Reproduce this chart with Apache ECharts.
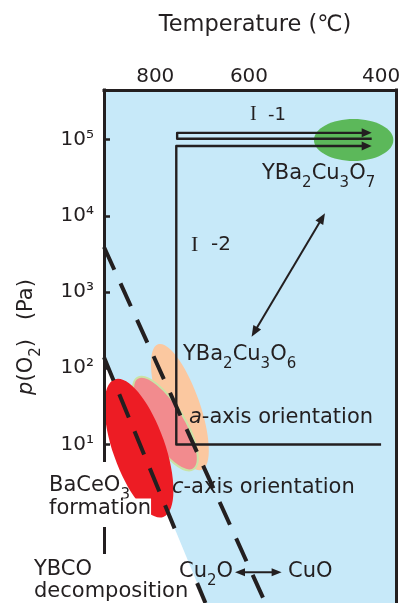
<!DOCTYPE html>
<html><head><meta charset="utf-8">
<script src="https://cdn.jsdelivr.net/npm/echarts@6/dist/echarts.min.js"></script>
<style>html,body{margin:0;padding:0;background:#fff}#c{width:400px;height:603px}</style>
</head><body><div id="c"></div>
<script>
// ---------- data: temperature (°C) and log10 p(O2) (Pa) ----------
const tempTicks = [800, 600, 400];
const logPTicks = [1, 2, 3, 4, 5];
const tempRange = [382.1, 936.3];
const logPRange = [-1.08, 5.651];
const ybcoDecompLine = [[936.3, 2.143], [685.8, -1.08]];
const ybcoDecompDrawn1 = [[936.3, 2.143], [747.5, -0.189]];
const ybcoDecompDrawn2 = [[703.5, -0.819], [685.8, -1.08]];
const cu2oCuoLine = [[936.3, 3.591], [570.5, -1.08]];
const pathI1 = [[411.7, 5.012], [748, 5.012], [748, 5.089], [411.7, 5.089]];
const pathI2 = [[400, 1.0], [750, 1.0], [750, 4.916], [411.7, 4.916]];
const oxygenArrow = [[475.2, 4.033], [595.2, 2.413]];
const copperArrow = [[626.3, -0.678], [542.8, -0.678]];
const ellipseBaCeO3 = [[906.0, 1.856], [780.6, 0.050]];
const ellipseCAxis = [[844.9, 1.874], [711.7, 0.675]];
const ellipseAAxis = [[793.2, 2.314], [693.4, 0.668]];
const ellipseYBCO7 = [[491.5, 4.995], [385.2, 4.995]];

// ---------- helpers ----------
const INK = '#231f20';
const FONT = 'DejaVu Sans';
const toXY = p => [Math.log10(p[0]), p[1]];
const SUP = {1: '¹', 2: '²', 3: '³', 4: '⁴', 5: '⁵'};

function ellipseEl(api, pts, minor, style) {
  const a = api.coord(toXY(pts[0])), b = api.coord(toXY(pts[1]));
  const cx = (a[0] + b[0]) / 2, cy = (a[1] + b[1]) / 2;
  const len = Math.hypot(b[0] - a[0], b[1] - a[1]) / 2;
  return {type: 'ellipse', x: cx, y: cy, rotation: -Math.atan2(b[1] - a[1], b[0] - a[0]),
    shape: {cx: 0, cy: 0, rx: len, ry: minor}, style: style};
}
function headPts(tip, from, L, w) {
  const dx = tip[0] - from[0], dy = tip[1] - from[1];
  const d = Math.hypot(dx, dy), ux = dx / d, uy = dy / d;
  const bx = tip[0] - ux * L, by = tip[1] - uy * L;
  return [[tip[0], tip[1]], [bx - uy * w, by + ux * w], [bx + uy * w, by - ux * w]];
}
function shorten(tip, from, s) {
  const dx = tip[0] - from[0], dy = tip[1] - from[1];
  const d = Math.hypot(dx, dy);
  return [tip[0] - dx / d * s, tip[1] - dy / d * s];
}
function arrowPath(api, pts, lw, L, w, both) {
  const px = pts.map(p => api.coord(toXY(p)));
  const n = px.length;
  const line = px.slice();
  line[n - 1] = shorten(px[n - 1], px[n - 2], L * 0.6);
  if (both) line[0] = shorten(px[0], px[1], L * 0.6);
  const kids = [{type: 'polyline', shape: {points: line}, style: {stroke: INK, lineWidth: lw, fill: null, lineJoin: 'round'}}];
  kids.push({type: 'polygon', shape: {points: headPts(px[n - 1], px[n - 2], L, w)}, style: {fill: INK}});
  if (both) kids.push({type: 'polygon', shape: {points: headPts(px[0], px[1], L, w)}, style: {fill: INK}});
  return kids;
}
function dashed(name, pts) {
  return {name: name, type: 'line', z: 3, data: pts.map(toXY), symbol: 'none', silent: true,
    lineStyle: {color: INK, width: 4, type: [25, 15], cap: 'butt'}, animation: false};
}
function rich(s) {
  const sub = Math.round(s * 0.72);
  return {
    n: {fontSize: s, fontFamily: FONT, fill: INK, lineHeight: s + 1},
    w: {fontSize: s, fontFamily: FONT, fill: INK, lineHeight: s + 1, backgroundColor: '#ffffff'},
    i: {fontSize: s, fontFamily: FONT, fontStyle: 'italic', fill: INK, lineHeight: s + 1},
    s: {fontSize: sub, fontFamily: FONT, fill: INK, lineHeight: sub, padding: [Math.round(s * 0.9), 0, 0, 0]},
    r: {fontSize: Math.round(s * 1.12), fontFamily: 'Liberation Serif', fill: INK, lineHeight: s + 1},
    g: {fontSize: s, fontFamily: FONT, width: Math.round(s * 0.9), lineHeight: s + 1}
  };
}
function txt(x, y, text, size, extra) {
  return {type: 'text', x: x, y: y, z: 100, silent: true,
    style: Object.assign({text: text, rich: rich(size), fill: INK, fontSize: size, fontFamily: FONT,
      align: 'left', textAlign: 'left', verticalAlign: 'middle', textVerticalAlign: 'middle'}, extra || {})};
}

const chart = echarts.init(document.getElementById('c'), null, {renderer: 'canvas'});
const axisLineStyle = {color: INK, width: 3, cap: 'square'};
chart.setOption({
  animation: false,
  backgroundColor: '#ffffff',
  grid: {left: 104, right: 4, top: 90, bottom: 0, containLabel: false, outerBoundsMode: 'none'},
  xAxis: {
    type: 'value', position: 'top', inverse: true, z: 10,
    min: Math.log10(tempRange[0]), max: Math.log10(tempRange[1]),
    axisLine: {show: true, onZero: false, lineStyle: axisLineStyle},
    axisTick: {show: false}, splitLine: {show: false},
    axisLabel: {customValues: tempTicks.map(t => Math.log10(t)), margin: 3,
      formatter: v => String(Math.round(Math.pow(10, v))),
      fontSize: 20, fontFamily: FONT, color: INK}
  },
  yAxis: [{
    type: 'value', position: 'left', z: 10,
    min: logPRange[0], max: logPRange[1],
    axisLine: {show: true, onZero: false, lineStyle: axisLineStyle},
    axisTick: {show: true, inside: true, length: 6, customValues: logPTicks, lineStyle: {color: INK, width: 2.5}},
    splitLine: {show: false},
    axisLabel: {customValues: logPTicks, margin: 10, formatter: v => '10' + SUP[v],
      fontSize: 20, fontFamily: FONT, color: INK}
  }, {
    type: 'value', position: 'right', z: 10,
    min: logPRange[0], max: logPRange[1],
    axisLine: {show: true, onZero: false, lineStyle: axisLineStyle},
    axisTick: {show: false}, axisLabel: {show: false}, splitLine: {show: false}
  }],
  series: [
    {type: 'custom', name: 'oxidizing region', z: 1, silent: true, data: [[2.8, 2]],
      renderItem: (p, api) => {
        const poly = [[tempRange[1], logPRange[1]], [tempRange[0], logPRange[1]], [tempRange[0], logPRange[0]],
          ybcoDecompLine[1], ybcoDecompLine[0]].map(q => api.coord(toXY(q)));
        return {type: 'polygon', shape: {points: poly}, style: {fill: '#c7e9f9'}};
      }},
    {type: 'custom', name: 'regions', z: 2, silent: true, data: [[2.8, 2]],
      renderItem: (p, api) => ({type: 'group', children: [
        ellipseEl(api, ellipseAAxis, 20, {fill: '#fbc8a0'}),
        ellipseEl(api, ellipseCAxis, 19, {fill: '#f28b8e', stroke: '#c9e3a6', lineWidth: 2}),
        ellipseEl(api, ellipseBaCeO3, 26, {fill: '#ed1c24'}),
        ellipseEl(api, ellipseYBCO7, 21, {fill: '#5cb85a'})
      ]})},
    dashed('YBCO decomposition', ybcoDecompDrawn1),
    dashed('YBCO decomposition 2', ybcoDecompDrawn2),
    dashed('Cu2O/CuO', cu2oCuoLine),
    {type: 'custom', name: 'paths', z: 4, silent: true, data: [[2.8, 2]],
      renderItem: (p, api) => ({type: 'group', children: [].concat(
        arrowPath(api, pathI1, 2.4, 10, 4.5, false),
        arrowPath(api, pathI2, 2.4, 10, 4.5, false),
        arrowPath(api, oxygenArrow, 2, 11, 4.5, true),
        arrowPath(api, copperArrow, 2, 10, 4, true)
      )})}
  ],
  graphic: [
    {type: 'rect', z: 50, silent: true, shape: {x: 100, y: 462, width: 8, height: 65}, style: {fill: '#ffffff'}},
    {type: 'rect', z: 50, silent: true, shape: {x: 100, y: 554, width: 8, height: 49}, style: {fill: '#ffffff'}},
    txt(255, 25, 'Temperature (℃)', 22.5, {align: 'center', textAlign: 'center'}),
    {type: 'text', x: 27, y: 337, rotation: Math.PI / 2, z: 100, silent: true,
      style: {text: '{i|p}{n|(O}{s|2}{n|)}{g| }{n|(Pa)}', rich: rich(21), fontSize: 21, fontFamily: FONT, fill: INK,
        align: 'center', textAlign: 'center', verticalAlign: 'middle', textVerticalAlign: 'middle'}},
    txt(268, 115, '{r|I}{n|  -1}', 18, {align: 'center', textAlign: 'center'}),
    txt(211, 245, '{r|I}{n|  -2}', 20, {align: 'center', textAlign: 'center'}),
    txt(262, 174, '{n|YBa}{s|2}{n|Cu}{s|3}{n|O}{s|7}', 21),
    txt(183, 355, '{n|YBa}{s|2}{n|Cu}{s|3}{n|O}{s|6}', 21),
    txt(189, 418, '{i|a}{n|-axis orientation}', 21),
    txt(172, 488, '{i|c}{n|-axis orientation}', 21),
    txt(49, 486, '{n|BaCeO}{s|3}', 21),
    txt(49, 509, '{w|formation}', 21),
    txt(34, 570, '{n|YBCO}', 21),
    txt(34, 592, '{n|decomposition}', 21),
    txt(179, 572, '{n|Cu}{s|2}{n|O}', 21),
    txt(288, 572, '{n|CuO}', 21)
  ]
});
</script>
</body></html>
